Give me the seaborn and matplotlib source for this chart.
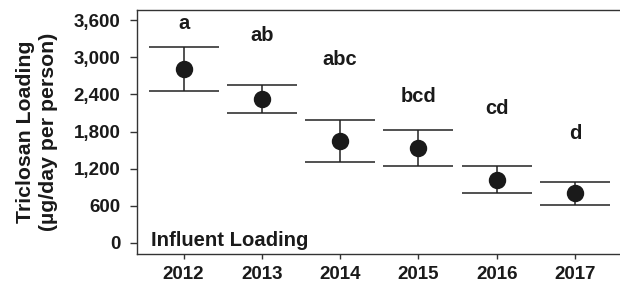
import numpy as np
import pandas as pd
import matplotlib
matplotlib.use("Agg")
import matplotlib.pyplot as plt
import seaborn as sns

# Data
years = ["2012", "2013", "2014", "2015", "2016", "2017"]
loading = [2810, 2330, 1650, 1540, 1020, 800]
upper = [3160, 2555, 1990, 1825, 1235, 990]
lower = [2455, 2105, 1315, 1240, 815, 620]
letters = ["a", "ab", "abc", "bcd", "cd", "d"]
letter_y = [3545, 3345, 2960, 2365, 2170, 1765]
yticks = [0, 600, 1200, 1800, 2400, 3000, 3600]

df = pd.DataFrame({"Year": years, "Loading": loading})

sns.set_style("white")
plt.rcParams["font.family"] = ["Liberation Sans", "DejaVu Sans"]
plt.rcParams["font.weight"] = "bold"

fig = plt.figure(figsize=(6.2, 2.83), dpi=100)
ax = fig.add_axes([0.2202, 0.1025, 0.7798, 0.8639])

# asymmetric error bars at the category positions
pos = np.arange(len(years))
yerr = [np.array(loading) - np.array(lower), np.array(upper) - np.array(loading)]
ax.errorbar(pos, loading, yerr=yerr, fmt="none", ecolor="#222222",
            elinewidth=1.1, capsize=25.2, capthick=1.1, zorder=2)

sns.pointplot(data=df, x="Year", y="Loading", errorbar=None, linestyle="none",
              color="#1a1a1a", markers="o", markersize=10.5, ax=ax, zorder=3)

# significance letters
for i, (lab, ly) in enumerate(zip(letters, letter_y)):
    ax.text(i, ly, lab, ha="center", va="center", fontsize=14.5,
            fontweight="bold", color="#1a1a1a")

ax.text(0.03, 0.034, "Influent Loading", transform=ax.transAxes, ha="left",
        va="baseline", fontsize=14.6, fontweight="bold", color="#1a1a1a")

ax.set_xlim(-0.6, 5.574)
ax.set_ylim(-178, 3770)
ax.set_yticks(yticks)
ax.set_yticklabels([f"{v:,}" for v in yticks])

ax.set_xlabel("")
ax.set_ylabel("Triclosan Loading\n(µg/day per person)", fontsize=15.3,
              fontweight="bold", color="#1a1a1a", linespacing=1.3, labelpad=11)

for s in ["left", "top", "bottom"]:
    ax.spines[s].set_color("#333333")
    ax.spines[s].set_linewidth(1.0)
ax.spines["right"].set_visible(False)

ax.tick_params(axis="y", which="major", left=True, length=5, width=1,
               color="#333333", pad=6.5, labelsize=13.5)
ax.tick_params(axis="x", which="major", bottom=True, length=3.5, width=1,
               color="#333333", pad=5, labelsize=13.5)
for t in ax.get_xticklabels() + ax.get_yticklabels():
    t.set_fontweight("bold")
    t.set_color("#1a1a1a")

plt.savefig("out.png", dpi=100)
